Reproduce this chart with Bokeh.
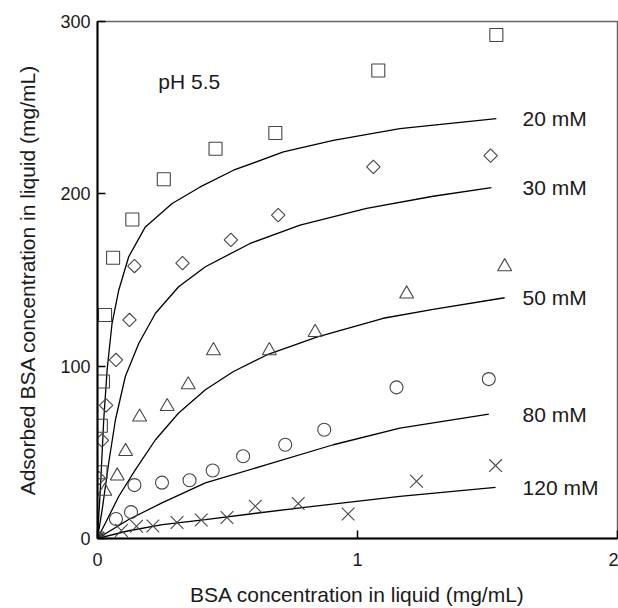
import math
from bokeh.plotting import figure
from bokeh.models import Range1d, FixedTicker, Label
from bokeh.embed import file_html
from bokeh.resources import INLINE

# ---- data ----
x_ticks = [0, 1, 2]
y_ticks = [0, 100, 200, 300]

series_names = ["20 mM", "30 mM", "50 mM", "80 mM", "120 mM"]

# measured points
sq_x = [0, 0.0115, 0.013, 0.021, 0.029, 0.060, 0.134, 0.255, 0.454, 0.684, 1.080, 1.534]
sq_y = [0, 38.4, 65.4, 91.1, 129.7, 162.9, 185.1, 208.5, 226.2, 235.3, 271.6, 292.2]

di_x = [0, 0.005, 0.017, 0.033, 0.071, 0.123, 0.142, 0.327, 0.513, 0.695, 1.061, 1.512]
di_y = [0, 35.0, 56.9, 77.3, 103.6, 126.8, 158.1, 159.8, 173.3, 187.6, 215.6, 222.2]

tr_x = [0, 0.028, 0.076, 0.108, 0.162, 0.268, 0.349, 0.446, 0.661, 0.837, 1.189, 1.566]
tr_y = [0, 27.4, 36.3, 50.5, 70.5, 76.6, 89.2, 109.0, 109.0, 119.6, 141.9, 157.7]

ci_x = [0, 0.071, 0.129, 0.142, 0.248, 0.354, 0.443, 0.560, 0.722, 0.872, 1.150, 1.505]
ci_y = [0, 11.3, 15.3, 31.0, 32.4, 33.8, 39.5, 47.7, 54.4, 63.1, 87.7, 92.5]

cr_x = [0, 0.092, 0.150, 0.213, 0.306, 0.399, 0.498, 0.607, 0.772, 0.964, 1.227, 1.531]
cr_y = [0, 4.6, 7.1, 7.2, 9.3, 10.7, 12.2, 18.7, 20.3, 14.2, 33.2, 42.3]

# fitted curves
fit20_x = [0, 0.0115, 0.024, 0.037, 0.056, 0.082, 0.120, 0.184, 0.287, 0.395, 0.523, 0.715, 0.907, 1.163, 1.534]
fit20_y = [0, 30.3, 68.9, 97.9, 124.9, 144.2, 163.5, 180.8, 194.4, 204.0, 213.7, 224.3, 231.0, 237.8, 243.6]

fit30_x = [0, 0.018, 0.043, 0.069, 0.107, 0.159, 0.223, 0.312, 0.415, 0.587, 0.779, 1.035, 1.291, 1.515]
fit30_y = [0, 16.8, 43.8, 68.9, 94.0, 113.3, 130.7, 146.1, 157.7, 171.2, 181.8, 191.5, 198.6, 203.6]

fit50_x = [0, 0.031, 0.082, 0.146, 0.223, 0.312, 0.415, 0.523, 0.651, 0.843, 1.099, 1.291, 1.566]
fit50_y = [0, 9.1, 24.5, 40.0, 57.3, 72.8, 86.3, 96.9, 106.5, 116.8, 127.8, 133.0, 139.7]

fit80_x = [0, 0.120, 0.248, 0.415, 0.651, 0.907, 1.163, 1.505]
fit80_y = [0, 11.0, 20.7, 32.3, 42.8, 54.4, 64.1, 72.2]

fit120_x = [0, 0.12, 0.25, 0.415, 0.779, 1.163, 1.531]
fit120_y = [0, 4.5, 8.0, 11.0, 17.8, 24.5, 29.7]

FONT = "Liberation Sans"
TXT = "#1a1a1a"

p = figure(width=618, height=608, output_backend="svg", toolbar_location=None,
           x_range=Range1d(0, 2), y_range=Range1d(0, 300),
           min_border_left=97, min_border_right=1, min_border_top=21, min_border_bottom=69)
p.background_fill_color = "white"
p.border_fill_color = "white"
p.grid.visible = False
p.outline_line_color = "#666666"
p.outline_line_width = 1.5

p.xaxis.ticker = FixedTicker(ticks=x_ticks)
p.yaxis.ticker = FixedTicker(ticks=y_ticks)
for ax in (p.xaxis[0], p.yaxis[0]):
    ax.axis_line_color = "black"
    ax.axis_line_width = 2
    ax.major_tick_line_color = "black"
    ax.major_tick_line_width = 1.5
    ax.major_tick_in = 8
    ax.major_tick_out = 0
    ax.minor_tick_line_color = None
    ax.major_label_text_font = FONT
    ax.major_label_text_font_size = "18px"
    ax.major_label_text_color = TXT
    ax.axis_label_text_font = FONT
    ax.axis_label_text_font_size = "21px"
    ax.axis_label_text_font_style = "normal"
    ax.axis_label_text_color = TXT

p.xaxis.axis_label = "BSA concentration in liquid (mg/mL)"
p.yaxis.axis_label = "Adsorbed BSA concentration in liquid (mg/mL)"
p.xaxis.major_label_standoff = 14
p.yaxis.major_label_standoff = 7
p.xaxis.axis_label_standoff = 14
p.yaxis.axis_label_standoff = 18

# fitted lines
fits = [(fit20_x, fit20_y), (fit30_x, fit30_y), (fit50_x, fit50_y),
        (fit80_x, fit80_y), (fit120_x, fit120_y)]
for fx, fy in fits:
    p.line(fx, fy, line_color="black", line_width=1.3)

MC = "#444444"
p.scatter(sq_x, sq_y, marker="square", size=13, fill_color=None, line_color=MC, line_width=1.1)
p.scatter(di_x, di_y, marker="square", size=9.5, angle=math.pi / 4,
          fill_color=None, line_color=MC, line_width=1.1)
p.scatter(tr_x, tr_y, marker="triangle", size=14, fill_color=None, line_color=MC, line_width=1.1)
p.scatter(ci_x, ci_y, marker="circle", size=13, fill_color=None, line_color=MC, line_width=1.1)
p.scatter(cr_x, cr_y, marker="x", size=18, fill_color=None, line_color=MC, line_width=1.1)

# curve labels, placed at the height of each curve's end
for name, (fx, fy) in zip(series_names, fits):
    p.add_layout(Label(x=1.635, y=fy[-1], text=name, text_font=FONT,
                       text_font_size="21px", text_color=TXT,
                       text_align="left", text_baseline="middle"))

p.add_layout(Label(x=0.234, y=265, text="pH 5.5", text_font=FONT,
                   text_font_size="21px", text_color=TXT,
                   text_align="left", text_baseline="middle"))

open("out.html", "w").write(file_html(p, INLINE))
